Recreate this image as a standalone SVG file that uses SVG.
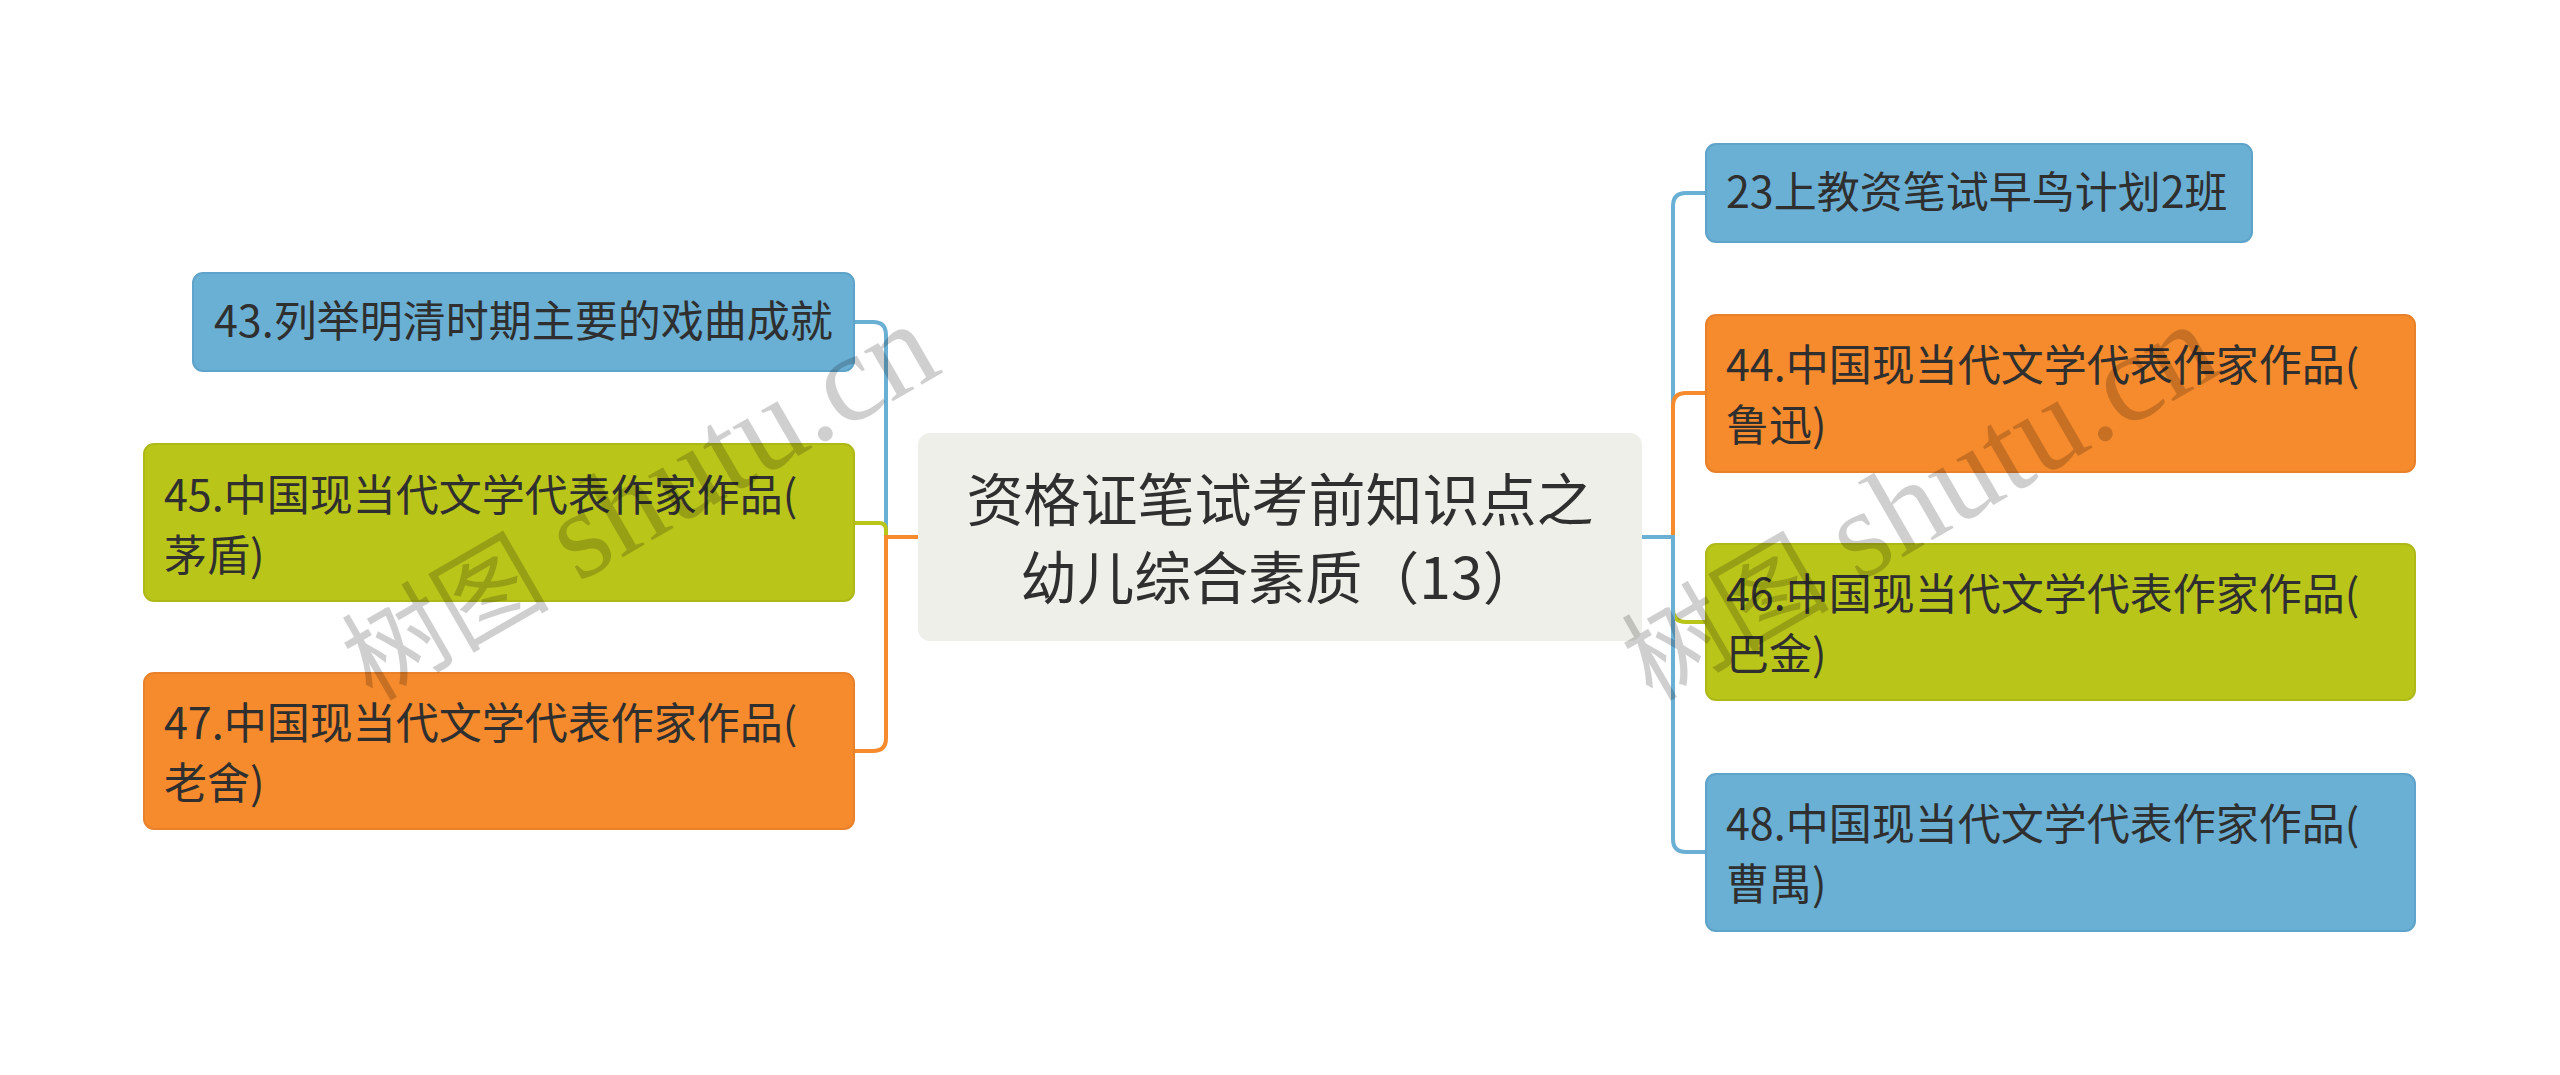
<svg xmlns="http://www.w3.org/2000/svg" width="2560" height="1075" viewBox="0 0 2560 1075">
  <style>
    .t { font-family: "Noto Sans CJK SC", "Noto Sans", sans-serif; fill: #2f2f2f; }
    .n { font-size: 43px; }
    .c { font-size: 57px; }
    .blue { fill: #6aafd4; stroke: #5ea3c9; stroke-width: 2; }
    .orange { fill: #f68b2d; stroke: #e9812a; stroke-width: 2; }
    .green { fill: #bac51a; stroke: #aeb918; stroke-width: 2; }
    .center { fill: #efefe9; }
    .link { fill: none; stroke-width: 4; }
    .lb { stroke: #6aafd4; }
    .lo { stroke: #f68b2d; }
    .lg { stroke: #bac51a; }
    .wm { fill: #000; fill-opacity: 0.19; }
    .wmc { font-family: "Noto Sans CJK SC", sans-serif; font-size: 104px; }
    .wml { font-family: "Liberation Serif", serif; font-size: 126px; }
  </style>
  <rect width="2560" height="1075" fill="#ffffff"/>

  <g id="connectors">
    <path class="link lb" d="M918 537 H886 V335 Q886 322 873 322 H854"/>
    <path class="link lg" d="M918 537 H886 V530 Q886 523 879 523 H854"/>
    <path class="link lo" d="M918 537 H886 V738 Q886 751 873 751 H854"/>
    <path class="link lb" d="M1642 537 H1673 V206 Q1673 193 1686 193 H1706"/>
    <path class="link lo" d="M1642 537 H1673 V406 Q1673 393 1686 393 H1706"/>
    <path class="link lg" d="M1642 537 H1673 V609 Q1673 622 1686 622 H1706"/>
    <path class="link lb" d="M1642 537 H1673 V839 Q1673 852 1686 852 H1706"/>
  </g>

  <g id="node-center">
    <rect class="center" x="918" y="433" width="724" height="208" rx="12"/>
    <text class="t c" x="1280" y="521" text-anchor="middle">资格证笔试考前知识点之</text>
    <text class="t c" x="1280" y="599" text-anchor="middle">幼儿综合素质（13）</text>
  </g>

  <g id="node-43">
    <rect class="blue" x="193" y="273" width="661" height="98" rx="10"/>
    <text class="t n" x="214" y="337">43.列举明清时期主要的戏曲成就</text>
  </g>
  <g id="node-45">
    <rect class="green" x="144" y="444" width="710" height="157" rx="10"/>
    <text class="t n" x="164" y="511">45.中国现当代文学代表作家作品(</text>
    <text class="t n" x="164" y="571">茅盾)</text>
  </g>
  <g id="node-47">
    <rect class="orange" x="144" y="673" width="710" height="156" rx="10"/>
    <text class="t n" x="164" y="739">47.中国现当代文学代表作家作品(</text>
    <text class="t n" x="164" y="799">老舍)</text>
  </g>

  <g id="node-23">
    <rect class="blue" x="1706" y="144" width="546" height="98" rx="10"/>
    <text class="t n" x="1726" y="208">23上教资笔试早鸟计划2班</text>
  </g>
  <g id="node-44">
    <rect class="orange" x="1706" y="315" width="709" height="157" rx="10"/>
    <text class="t n" x="1726" y="381">44.中国现当代文学代表作家作品(</text>
    <text class="t n" x="1726" y="441">鲁迅)</text>
  </g>
  <g id="node-46">
    <rect class="green" x="1706" y="544" width="709" height="156" rx="10"/>
    <text class="t n" x="1726" y="610">46.中国现当代文学代表作家作品(</text>
    <text class="t n" x="1726" y="670">巴金)</text>
  </g>
  <g id="node-48">
    <rect class="blue" x="1706" y="774" width="709" height="157" rx="10"/>
    <text class="t n" x="1726" y="840">48.中国现当代文学代表作家作品(</text>
    <text class="t n" x="1726" y="900">曹禺)</text>
  </g>

  <g id="watermark-1" transform="translate(372 702) rotate(-30)">
    <text class="wm wmc" x="0" y="0">树图</text>
    <text class="wm wml" x="238" y="0">shutu.cn</text>
  </g>
  <g id="watermark-2" transform="translate(1652 702) rotate(-30)">
    <text class="wm wmc" x="0" y="0">树图</text>
    <text class="wm wml" x="238" y="0">shutu.cn</text>
  </g>
</svg>
